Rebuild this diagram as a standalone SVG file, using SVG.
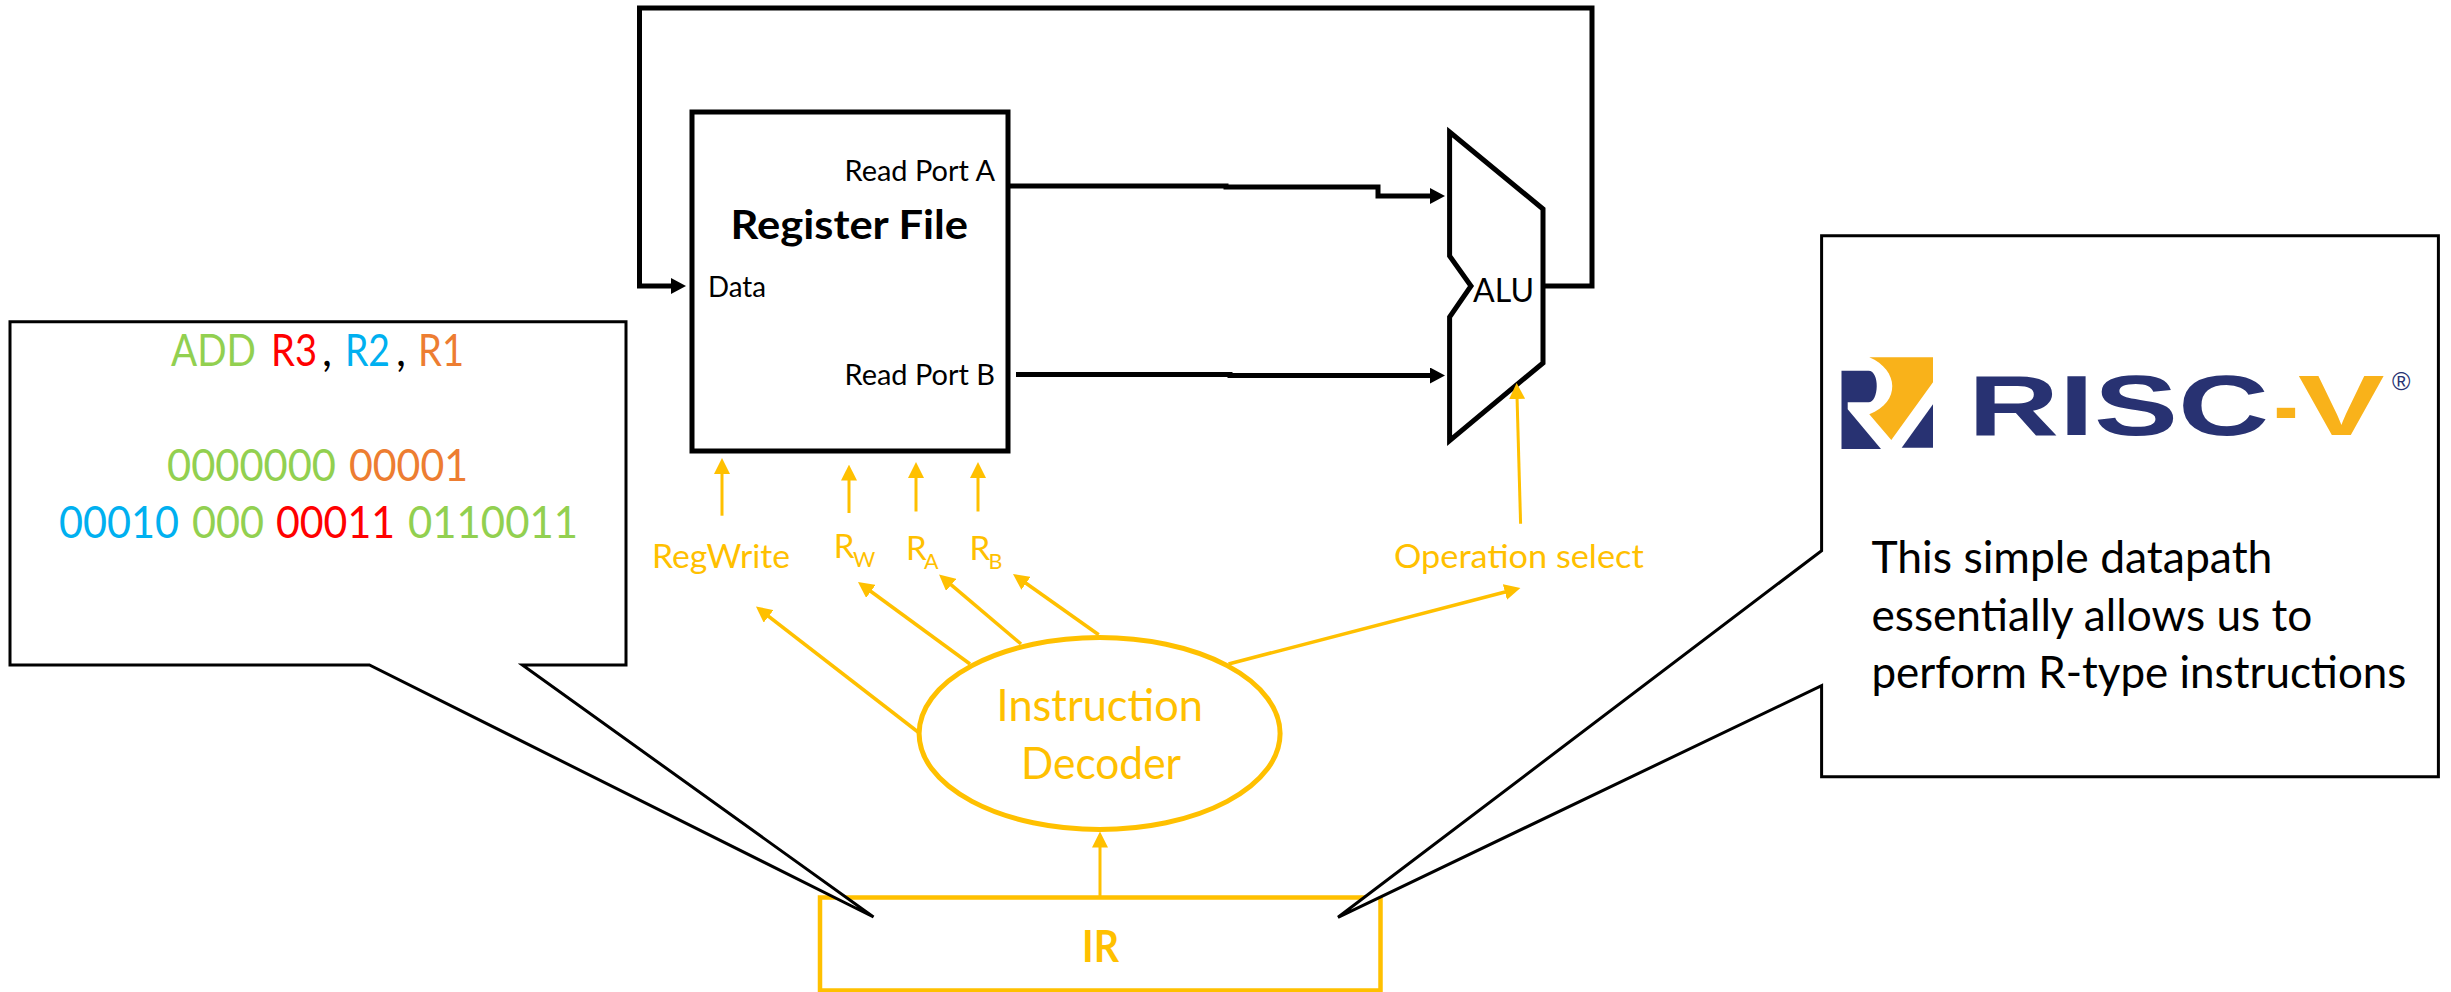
<svg xmlns="http://www.w3.org/2000/svg" width="2451" height="992" viewBox="0 0 2451 992">
<style>
text{font-family:"Lato","Carlito","Open Sans",sans-serif;}
.k{fill:none;stroke:#000;stroke-width:5;}
.y{fill:none;stroke:#FFC000;stroke-width:3;}
.yt{fill:#FFC000;}
.s32{font-size:29px;}
.s36{font-size:33px;}
.s43{font-size:44px;}
.sub{font-size:21.5px;}
.call{fill:#fff;stroke:#000;stroke-width:3;}
.g{fill:#92D050}.r{fill:#FF0000}.b{fill:#00B0F0}.o{fill:#ED7D31}
.navy{fill:#283272}.gold{fill:#F9B21A}
.logo{font-family:"Liberation Sans",sans-serif;font-size:85px;font-weight:700;}
</style>
<defs>
<marker id="ah" markerUnits="userSpaceOnUse" markerWidth="16" markerHeight="16" viewBox="0 0 16 16" refX="10" refY="8" orient="auto"><path d="M0,0L16,8L0,16z" fill="#FFC000"/></marker>
<marker id="ak" markerUnits="userSpaceOnUse" markerWidth="15" markerHeight="16" viewBox="0 0 15 16" refX="8" refY="8" orient="auto"><path d="M0,0L15,8L0,16z" fill="#000"/></marker>
</defs>
<rect width="2451" height="992" fill="#fff"/>

<g id="register-file">
<rect class="k" x="692" y="112" width="316" height="339" style="fill:#fff"/>
<text class="s32" x="844.5" y="181" textLength="150.5" lengthAdjust="spacingAndGlyphs">Read Port A</text>
<text class="s32" x="844.5" y="385" textLength="150.5" lengthAdjust="spacingAndGlyphs">Read Port B</text>
<text class="s32" x="708" y="297" textLength="58" lengthAdjust="spacingAndGlyphs">Data</text>
<text x="730.6" y="239" font-size="40" font-weight="700" textLength="237.5" lengthAdjust="spacingAndGlyphs">Register File</text>
</g>

<g id="alu">
<polygon class="k" points="1449.6,132 1543,209 1543,363 1449.6,440.6 1449.6,317 1471,286 1449.6,256" style="fill:#fff"/>
<text x="1473" y="302" font-size="32" textLength="61" lengthAdjust="spacingAndGlyphs">ALU</text>
</g>

<g id="instruction-decoder">
<ellipse cx="1099.6" cy="733.5" rx="180.5" ry="96" fill="#fff" stroke="#FFC000" stroke-width="5"/>
<text class="yt s43" x="996.6" y="720.6" textLength="206.4" lengthAdjust="spacingAndGlyphs">Instruction</text>
<text class="yt s43" x="1021" y="778.7" textLength="160" lengthAdjust="spacingAndGlyphs">Decoder</text>
</g>

<g id="ir">
<rect x="820" y="897.5" width="560.5" height="93" fill="#fff" stroke="#FFC000" stroke-width="4.5"/>
<text class="yt s43" x="1082" y="962" font-weight="700" textLength="37" lengthAdjust="spacingAndGlyphs">IR</text>
</g>

<g id="signal-labels">
<text class="yt s36" x="652" y="567.5" textLength="138" lengthAdjust="spacingAndGlyphs">RegWrite</text>
<text class="yt s36" x="833.7" y="558">R<tspan class="sub" x="853" y="567">W</tspan></text>
<text class="yt s36" x="906" y="560.4">R<tspan class="sub" x="924" y="569">A</tspan></text>
<text class="yt s36" x="969.6" y="560.4">R<tspan class="sub" x="988.5" y="569">B</tspan></text>
<text class="yt s36" x="1394" y="567.5" textLength="249.7" lengthAdjust="spacingAndGlyphs">Operation select</text>
</g>

<g id="connectors">
<path class="k" d="M1543,286H1592V8H639.5V286H679" marker-end="url(#ak)"/>
<path class="k" d="M1008,186H1226V187H1378V196H1438" marker-end="url(#ak)"/>
<path class="k" d="M1016,374.5H1230V375.5H1438" marker-end="url(#ak)"/>
<path class="y" d="M722,515.7V464" marker-end="url(#ah)"/>
<path class="y" d="M849,513V470.6" marker-end="url(#ah)"/>
<path class="y" d="M916,511.5V468" marker-end="url(#ah)"/>
<path class="y" d="M978,511.5V468" marker-end="url(#ah)"/>
<path class="y" d="M1520.6,523.8L1516.8,389" marker-end="url(#ah)"/>
<path class="y" style="stroke-width:3.5" d="M918,732L760.7,610.2" marker-end="url(#ah)"/>
<path class="y" style="stroke-width:3.5" d="M970,664L862.8,585.5" marker-end="url(#ah)"/>
<path class="y" style="stroke-width:3.5" d="M1021,644L943.6,578.4" marker-end="url(#ah)"/>
<path class="y" style="stroke-width:3.5" d="M1098.7,634.7L1017.9,577.5" marker-end="url(#ah)"/>
<path class="y" style="stroke-width:3.5" d="M1228.5,664L1514.6,589.5" marker-end="url(#ah)"/>
<path class="y" d="M1100,896V837.5" marker-end="url(#ah)"/>
</g>

<g id="callout-instruction">
<polygon class="call" points="10,321.7 626,321.7 626,665 522.4,665 873.5,917 369.4,665 10,665"/>
<text class="s43" y="365.7"><tspan class="g" x="171" textLength="85" lengthAdjust="spacingAndGlyphs">ADD</tspan> <tspan class="r" x="271" textLength="46" lengthAdjust="spacingAndGlyphs">R3</tspan><tspan x="322">,</tspan> <tspan class="b" x="345" textLength="45" lengthAdjust="spacingAndGlyphs">R2</tspan><tspan x="396">,</tspan> <tspan class="o" x="418" textLength="46" lengthAdjust="spacingAndGlyphs">R1</tspan></text>
<text class="s43" y="480.7"><tspan class="g" x="167" textLength="169" lengthAdjust="spacingAndGlyphs">0000000</tspan> <tspan class="o" x="349" textLength="119" lengthAdjust="spacingAndGlyphs">00001</tspan></text>
<text class="s43" y="537.7"><tspan class="b" x="59" textLength="120" lengthAdjust="spacingAndGlyphs">00010</tspan> <tspan class="g" x="192" textLength="72" lengthAdjust="spacingAndGlyphs">000</tspan> <tspan class="r" x="276" textLength="119" lengthAdjust="spacingAndGlyphs">00011</tspan> <tspan class="g" x="408" textLength="170" lengthAdjust="spacingAndGlyphs">0110011</tspan></text>
</g>

<g id="callout-riscv">
<polygon class="call" points="1821.6,235.7 2438.4,235.7 2438.4,776.7 1821.6,776.7 1821.6,685.7 1338,917.3 1821.6,550.7"/>
<g id="riscv-logo">
<path class="navy" d="M1841.5,370.7H1868.5C1880,370.7 1879,402.3 1868.5,402.3H1847.7V409.3L1881,449H1841.5Z"/>
<path class="gold" d="M1869.3,357.3H1933V382.3L1891.3,440L1869.3,414.3C1901,402 1899,370 1869.3,357.3Z"/>
<polygon class="navy" points="1933,404.3 1933,447.7 1901.7,447.7"/>
<text y="435" class="logo"><tspan class="navy" x="1968" textLength="301" lengthAdjust="spacingAndGlyphs">RISC</tspan><tspan class="gold" x="2274" textLength="24" lengthAdjust="spacingAndGlyphs">-</tspan><tspan class="gold" x="2298" textLength="86.5" lengthAdjust="spacingAndGlyphs">V</tspan></text>
<text x="2392" y="390" class="navy" style="font-family:'Liberation Sans',sans-serif" font-size="25">®</text>
</g>
<text class="s43" x="1871.4" y="572.7" textLength="401" lengthAdjust="spacingAndGlyphs">This simple datapath</text>
<text class="s43" x="1871.4" y="630.7" textLength="441" lengthAdjust="spacingAndGlyphs">essentially allows us to</text>
<text class="s43" x="1871.4" y="688" textLength="535" lengthAdjust="spacingAndGlyphs">perform R-type instructions</text>
</g>
</svg>
